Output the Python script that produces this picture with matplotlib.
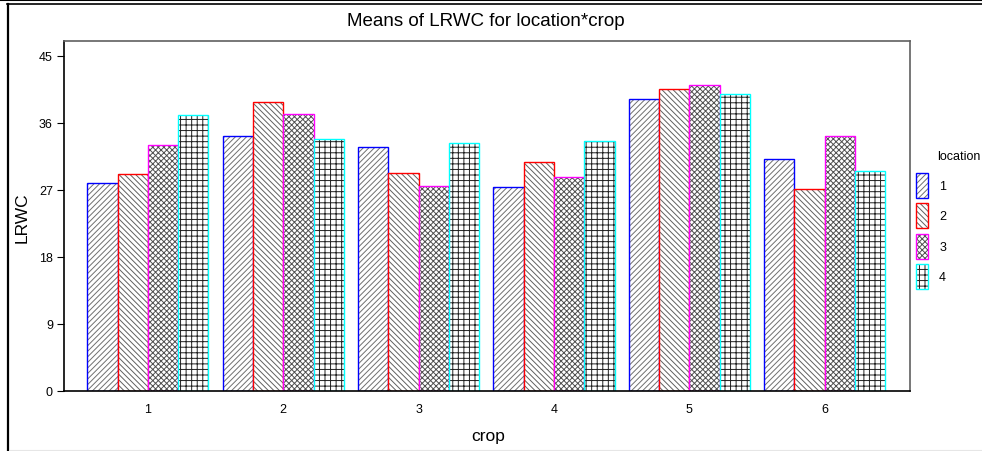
import matplotlib
matplotlib.use("Agg")
import matplotlib.pyplot as plt
from matplotlib.patches import Patch
from matplotlib.legend_handler import HandlerTuple
from matplotlib.lines import Line2D
import numpy as np

# Mean LRWC per crop for each location
crops = ["1", "2", "3", "4", "5", "6"]
locations = ["1", "2", "3", "4"]
loc1 = [27.9, 34.3, 32.8, 27.4, 39.2, 31.2]
loc2 = [29.1, 38.8, 29.3, 30.8, 40.6, 27.1]
loc3 = [33.0, 37.2, 27.5, 28.7, 41.1, 34.3]
loc4 = [37.1, 33.8, 33.3, 33.6, 39.9, 29.5]
yticks = [0, 9, 18, 27, 36, 45]

plt.rcParams['font.family'] = ['Liberation Sans', 'DejaVu Sans']
plt.rcParams['hatch.linewidth'] = 0.7

W, H = 982, 452
fig = plt.figure(figsize=(W / 100, H / 100), dpi=100)
ax = fig.add_axes([64 / W, 1 - 392 / H, (910 - 64) / W, (392 - 42) / H])

series = [loc1, loc2, loc3, loc4]
edge_colors = ['#0000ff', '#ff0000', '#ff00ff', '#00ffff']
hatches = ['//////', '\\' * 6, 'xxxxxx', '+++']
hatch_colors = ['#707070', '#606060', '#505050', '#202020']
width = 0.2235
x = np.arange(1, len(crops) + 1)

handles = []
for i, (vals, ec, h, hc) in enumerate(zip(series, edge_colors, hatches, hatch_colors)):
    pos = x + (i - 1.5) * width
    # hatch fill in grey, outline in the location colour
    ax.bar(pos, vals, width, color='white', edgecolor=hc, hatch=h, linewidth=0)
    ax.bar(pos, vals, width, facecolor='none', edgecolor=ec, linewidth=1.0)
    handles.append((Patch(facecolor='white', edgecolor=hc, hatch=h, linewidth=0),
                    Patch(facecolor='none', edgecolor=ec, linewidth=1.0)))

ax.set_xlim(0.38, 6.63)
ax.set_ylim(0, 47.0)
ax.set_xticks(x)
ax.set_xticklabels(crops)
ax.set_yticks(yticks)
ax.tick_params(axis='x', length=0, pad=9, labelsize=9)
ax.tick_params(axis='y', length=5, width=0.8, pad=3, labelsize=9)
for s in ax.spines.values():
    s.set_color('#606060')
    s.set_linewidth(1.2)
ax.spines['bottom'].set_color('black')
ax.spines['left'].set_color('black')

fig.text(0.495, 1 - 21 / H, 'Means of LRWC for location*crop', ha='center', va='center', fontsize=13.5)
fig.text(22 / W, 1 - 218 / H, 'LRWC', rotation=90, ha='center', va='center', fontsize=12.5)
fig.text(488 / W, 1 - 437 / H, 'crop', ha='center', va='center', fontsize=12.5)

# legend
fig.text(937 / W, 1 - 157 / H, 'location', ha='left', va='center', fontsize=9)
fig.legend(handles, locations, handler_map={tuple: HandlerTuple(ndivide=1)},
           loc='upper left', bbox_to_anchor=(916 / W, 1 - 174 / H), frameon=False,
           fontsize=9, handlelength=0.95, handleheight=2.7, handletextpad=0.9,
           labelspacing=0.42, borderaxespad=0, borderpad=0)

# outer frame
tf = fig.transFigure
fig.add_artist(Line2D([0, 1], [1 - 1 / H, 1 - 1 / H], transform=tf, color='black', lw=1.5))
fig.add_artist(Line2D([7 / W, 1], [1 - 5 / H, 1 - 5 / H], transform=tf, color='black', lw=1.2))
fig.add_artist(Line2D([8.3 / W, 8.3 / W], [1 - 4.5 / H, 0], transform=tf, color='black', lw=1.6))
fig.add_artist(Line2D([10 / W, 1], [1 - 451 / H, 1 - 451 / H], transform=tf, color='#e6e6e6', lw=0.8))

fig.savefig('out.png', dpi=100)
